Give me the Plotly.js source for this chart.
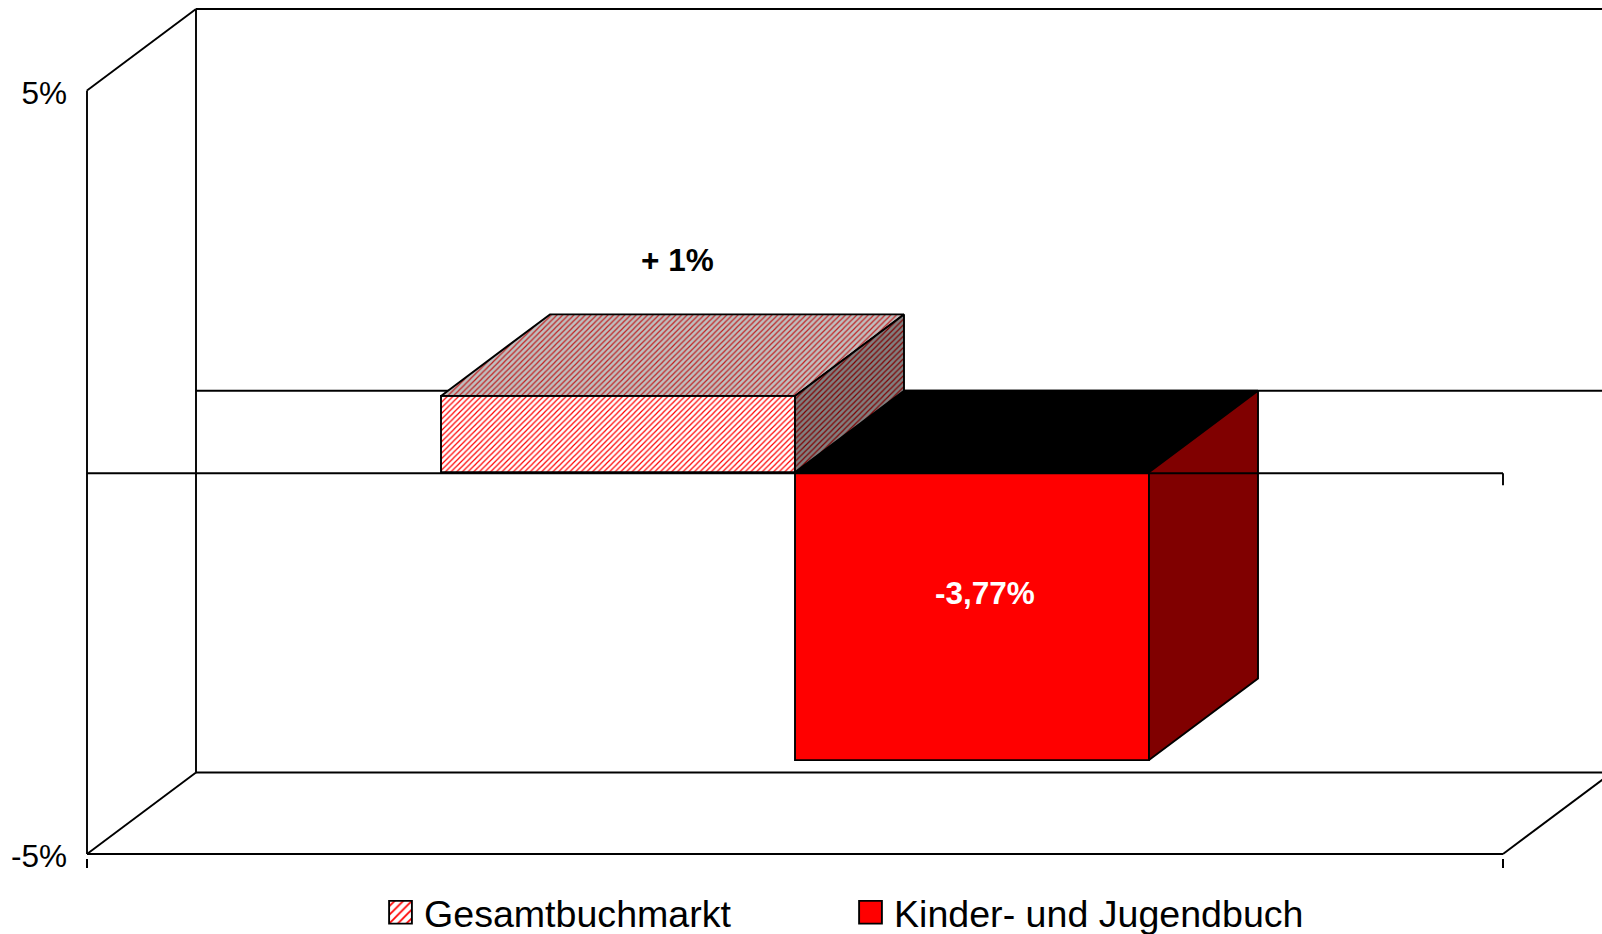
<!DOCTYPE html>
<html>
<head>
<meta charset="utf-8">
<script src="https://cdn.plot.ly/plotly-3.0.1.min.js"></script>
<style>html,body{margin:0;padding:0;background:#fff;overflow:hidden}</style>
</head>
<body>
<div id="chart" style="width:1602px;height:934px"></div>
<script>
const seriesNames = ['Gesamtbuchmarkt', 'Kinder- und Jugendbuch'];
const seriesValues = [1, -3.77];
const valueLabels = ['+ 1%', '-3,77%'];
const yTickVals = [5, -5];
const yTickText = ['5%', '-5%'];

const FONT = '"Liberation Sans", Arial, sans-serif';
const LW = 1.9;
const PXX = 1416, PXY = 76.35;
const barCenters = [0.375, 0.625];
const barWidth = 0.25;
const depthX = 109 / PXX;
const depthY = 81.5 / PXY;
const labelPos = [[0.4167, 2.78], [0.634, -1.58]];

const hatch = (bg, fg, sol) => ({shape: '/', bgcolor: bg, fgcolor: fg, size: 4, solidity: sol});

function segs(list) {
  const x = [], y = [];
  list.forEach(s => { x.push(s[0], s[2], null); y.push(s[1], s[3], null); });
  return {x, y, type: 'scatter', mode: 'lines', showlegend: false, hoverinfo: 'skip',
          line: {color: '#000', width: LW}};
}
function face(pts, fill, pattern) {
  const t = {x: pts.map(p => p[0]).concat(pts[0][0]), y: pts.map(p => p[1]).concat(pts[0][1]),
    type: 'scatter', mode: 'lines', fill: 'toself', fillcolor: fill,
    showlegend: false, hoverinfo: 'skip', line: {color: '#000', width: LW}};
  if (pattern) t.fillpattern = pattern;
  return t;
}
function topFace(i) {
  const t = Math.max(seriesValues[i], 0), l = barCenters[i] - barWidth / 2, r = barCenters[i] + barWidth / 2;
  return [[l, t], [l + depthX, t + depthY], [r + depthX, t + depthY], [r, t]];
}
function sideFace(i) {
  const t = Math.max(seriesValues[i], 0), b = Math.min(seriesValues[i], 0), r = barCenters[i] + barWidth / 2;
  return [[r, t], [r + depthX, t + depthY], [r + depthX, b + depthY], [r, b]];
}

const bars = [
  {type: 'bar', name: seriesNames[0], x: [barCenters[0]], y: [seriesValues[0]], width: barWidth, hoverinfo: 'name+y',
   marker: {color: '#fff', line: {color: '#000', width: LW}, pattern: hatch('#ffffff', '#ff0000', 0.3)}},
  {type: 'bar', name: seriesNames[1], x: [barCenters[1]], y: [seriesValues[1]], width: barWidth, hoverinfo: 'name+y',
   marker: {color: '#ff0000', line: {color: '#000', width: LW}}}
];

const yTop = yTickVals[0], yBot = yTickVals[1];
const walls = segs([
  [depthX, yTop + depthY, 1 + depthX, yTop + depthY],
  [depthX, yTop + depthY, depthX, yBot + depthY],
  [depthX, yBot + depthY, 1 + depthX, yBot + depthY],
  [depthX, depthY, 1 + depthX, depthY],
  [0, yTop, depthX, yTop + depthY],
  [0, yBot, depthX, yBot + depthY],
  [1, yBot, 1 + depthX, yBot + depthY],
  [0, yTop, 0, yBot],
  [0, yBot, 1, yBot]
]);
const zeroY = -1 / PXY;
const zeroAxis = segs([[0, zeroY, 1, zeroY], [1, zeroY, 1, zeroY - 12 / PXY]]);

const data = bars.concat([
  walls,
  face(topFace(1), '#000000'),
  face(sideFace(1), '#800000'),
  face(topFace(0), '#bfbfbf', hatch('#bfbfbf', '#bf2020', 0.3)),
  face(sideFace(0), '#808080', hatch('#808080', '#800000', 0.3)),
  zeroAxis
]);

const layout = {
  width: 1602, height: 934,
  margin: {l: 80, r: 0, t: 0, b: 76, pad: 0, autoexpand: false},
  paper_bgcolor: '#fff', plot_bgcolor: 'rgba(0,0,0,0)',
  barmode: 'overlay',
  font: {family: FONT, color: '#000', size: 31},
  xaxis: {range: [-7 / PXX, 1515 / PXX], tickmode: 'array', tickvals: [0, 1], showticklabels: false, ticks: 'outside',
          ticklen: 9, tickwidth: LW, tickcolor: '#000', showgrid: false, zeroline: false,
          showline: false, fixedrange: true},
  yaxis: {range: [yBot - 4 / PXY, yBot + 854 / PXY], tickmode: 'array', tickvals: yTickVals, ticktext: yTickText, ticks: '',
          ticklabelstandoff: 12, showgrid: false, zeroline: false, showline: false,
          fixedrange: true, tickfont: {size: 31.5, family: FONT, color: '#000'}},
  legend: {orientation: 'h', x: 0.19514, y: -0.0633, xanchor: 'left', yanchor: 'middle',
           itemwidth: 37, entrywidth: 418, entrywidthmode: 'pixels', bgcolor: 'rgba(0,0,0,0)', borderwidth: 0,
           font: {size: 37.6, family: FONT, color: '#000'}, traceorder: 'normal'},
  annotations: valueLabels.map((t, i) => ({
    x: labelPos[i][0], y: labelPos[i][1], xref: 'x', yref: 'y', text: '<b>' + t + '</b>', showarrow: false,
    font: {size: 31.5, family: FONT, color: i === 1 ? '#fff' : '#000'}, xanchor: 'center', yanchor: 'middle'
  }))
};

function finish() {
  document.querySelectorAll('#chart .legendpoints path').forEach(p => {
    const tr = p.getAttribute('transform') || '';
    if (!tr.includes('scale')) p.setAttribute('transform', tr + ' scale(1.9)');
    p.style.strokeWidth = '1px';
  });
  document.querySelectorAll('#chart .ytick text').forEach(t => {
    const tr = t.getAttribute('transform') || '';
    if (!tr.includes('translate(0,2)')) t.setAttribute('transform', 'translate(0,2) ' + tr);
  });
}
Plotly.newPlot('chart', data, layout, {displayModeBar: false}).then(gd => {
  finish();
  gd.on('plotly_afterplot', finish);
});
</script>
</body>
</html>
